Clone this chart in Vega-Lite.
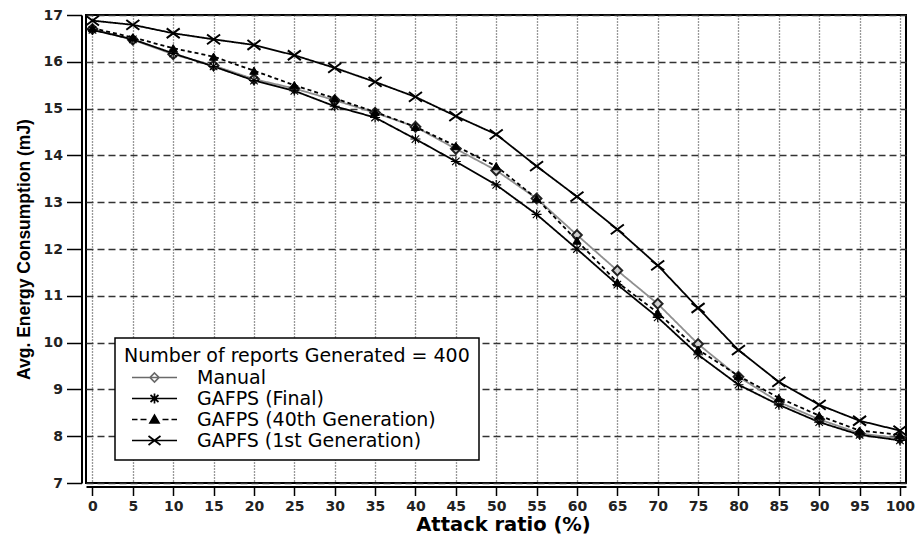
{
  "$schema": "https://vega.github.io/schema/vega-lite/v6.json",
  "width": 820,
  "height": 468,
  "autosize": {"type": "none"},
  "padding": {"left": 86, "top": 15, "right": 11, "bottom": 54},
  "background": "white",
  "data": {"values": [
    {"ratio": 0, "series": "Manual", "energy": 16.70},
    {"ratio": 5, "series": "Manual", "energy": 16.47},
    {"ratio": 10, "series": "Manual", "energy": 16.16},
    {"ratio": 15, "series": "Manual", "energy": 15.92},
    {"ratio": 20, "series": "Manual", "energy": 15.63},
    {"ratio": 25, "series": "Manual", "energy": 15.43},
    {"ratio": 30, "series": "Manual", "energy": 15.18},
    {"ratio": 35, "series": "Manual", "energy": 14.91},
    {"ratio": 40, "series": "Manual", "energy": 14.61},
    {"ratio": 45, "series": "Manual", "energy": 14.14},
    {"ratio": 50, "series": "Manual", "energy": 13.68},
    {"ratio": 55, "series": "Manual", "energy": 13.08},
    {"ratio": 60, "series": "Manual", "energy": 12.30},
    {"ratio": 65, "series": "Manual", "energy": 11.54},
    {"ratio": 70, "series": "Manual", "energy": 10.83},
    {"ratio": 75, "series": "Manual", "energy": 9.97},
    {"ratio": 80, "series": "Manual", "energy": 9.27},
    {"ratio": 85, "series": "Manual", "energy": 8.73},
    {"ratio": 90, "series": "Manual", "energy": 8.36},
    {"ratio": 95, "series": "Manual", "energy": 8.06},
    {"ratio": 100, "series": "Manual", "energy": 7.95},
    {"ratio": 0, "series": "GAFPS (Final)", "energy": 16.68},
    {"ratio": 5, "series": "GAFPS (Final)", "energy": 16.48},
    {"ratio": 10, "series": "GAFPS (Final)", "energy": 16.18},
    {"ratio": 15, "series": "GAFPS (Final)", "energy": 15.90},
    {"ratio": 20, "series": "GAFPS (Final)", "energy": 15.60},
    {"ratio": 25, "series": "GAFPS (Final)", "energy": 15.38},
    {"ratio": 30, "series": "GAFPS (Final)", "energy": 15.05},
    {"ratio": 35, "series": "GAFPS (Final)", "energy": 14.81},
    {"ratio": 40, "series": "GAFPS (Final)", "energy": 14.35},
    {"ratio": 45, "series": "GAFPS (Final)", "energy": 13.87},
    {"ratio": 50, "series": "GAFPS (Final)", "energy": 13.37},
    {"ratio": 55, "series": "GAFPS (Final)", "energy": 12.74},
    {"ratio": 60, "series": "GAFPS (Final)", "energy": 12.00},
    {"ratio": 65, "series": "GAFPS (Final)", "energy": 11.24},
    {"ratio": 70, "series": "GAFPS (Final)", "energy": 10.54},
    {"ratio": 75, "series": "GAFPS (Final)", "energy": 9.74},
    {"ratio": 80, "series": "GAFPS (Final)", "energy": 9.10},
    {"ratio": 85, "series": "GAFPS (Final)", "energy": 8.67},
    {"ratio": 90, "series": "GAFPS (Final)", "energy": 8.30},
    {"ratio": 95, "series": "GAFPS (Final)", "energy": 8.03},
    {"ratio": 100, "series": "GAFPS (Final)", "energy": 7.91},
    {"ratio": 0, "series": "GAFPS (40th Generation)", "energy": 16.72},
    {"ratio": 5, "series": "GAFPS (40th Generation)", "energy": 16.52},
    {"ratio": 10, "series": "GAFPS (40th Generation)", "energy": 16.29},
    {"ratio": 15, "series": "GAFPS (40th Generation)", "energy": 16.11},
    {"ratio": 20, "series": "GAFPS (40th Generation)", "energy": 15.81},
    {"ratio": 25, "series": "GAFPS (40th Generation)", "energy": 15.50},
    {"ratio": 30, "series": "GAFPS (40th Generation)", "energy": 15.22},
    {"ratio": 35, "series": "GAFPS (40th Generation)", "energy": 14.93},
    {"ratio": 40, "series": "GAFPS (40th Generation)", "energy": 14.61},
    {"ratio": 45, "series": "GAFPS (40th Generation)", "energy": 14.20},
    {"ratio": 50, "series": "GAFPS (40th Generation)", "energy": 13.77},
    {"ratio": 55, "series": "GAFPS (40th Generation)", "energy": 13.08},
    {"ratio": 60, "series": "GAFPS (40th Generation)", "energy": 12.18},
    {"ratio": 65, "series": "GAFPS (40th Generation)", "energy": 11.29},
    {"ratio": 70, "series": "GAFPS (40th Generation)", "energy": 10.64},
    {"ratio": 75, "series": "GAFPS (40th Generation)", "energy": 9.85},
    {"ratio": 80, "series": "GAFPS (40th Generation)", "energy": 9.29},
    {"ratio": 85, "series": "GAFPS (40th Generation)", "energy": 8.82},
    {"ratio": 90, "series": "GAFPS (40th Generation)", "energy": 8.44},
    {"ratio": 95, "series": "GAFPS (40th Generation)", "energy": 8.12},
    {"ratio": 100, "series": "GAFPS (40th Generation)", "energy": 8.03},
    {"ratio": 0, "series": "GAPFS (1st Generation)", "energy": 16.88},
    {"ratio": 5, "series": "GAPFS (1st Generation)", "energy": 16.79},
    {"ratio": 10, "series": "GAPFS (1st Generation)", "energy": 16.61},
    {"ratio": 15, "series": "GAPFS (1st Generation)", "energy": 16.48},
    {"ratio": 20, "series": "GAPFS (1st Generation)", "energy": 16.36},
    {"ratio": 25, "series": "GAPFS (1st Generation)", "energy": 16.14},
    {"ratio": 30, "series": "GAPFS (1st Generation)", "energy": 15.87},
    {"ratio": 35, "series": "GAPFS (1st Generation)", "energy": 15.57},
    {"ratio": 40, "series": "GAPFS (1st Generation)", "energy": 15.25},
    {"ratio": 45, "series": "GAPFS (1st Generation)", "energy": 14.84},
    {"ratio": 50, "series": "GAPFS (1st Generation)", "energy": 14.45},
    {"ratio": 55, "series": "GAPFS (1st Generation)", "energy": 13.77},
    {"ratio": 60, "series": "GAPFS (1st Generation)", "energy": 13.12},
    {"ratio": 65, "series": "GAPFS (1st Generation)", "energy": 12.42},
    {"ratio": 70, "series": "GAPFS (1st Generation)", "energy": 11.65},
    {"ratio": 75, "series": "GAPFS (1st Generation)", "energy": 10.74},
    {"ratio": 80, "series": "GAPFS (1st Generation)", "energy": 9.84},
    {"ratio": 85, "series": "GAPFS (1st Generation)", "energy": 9.16},
    {"ratio": 90, "series": "GAPFS (1st Generation)", "energy": 8.67},
    {"ratio": 95, "series": "GAPFS (1st Generation)", "energy": 8.33},
    {"ratio": 100, "series": "GAPFS (1st Generation)", "energy": 8.12}
  ]},
  "encoding": {
    "x": {
      "field": "ratio", "type": "quantitative",
      "scale": {"domain": [-0.8, 100.75], "nice": false, "zero": false},
      "axis": {
        "title": "Attack ratio (%)",
        "values": [0,5,10,15,20,25,30,35,40,45,50,55,60,65,70,75,80,85,90,95,100],
        "grid": true, "gridDash": [1, 2], "gridColor": "#333", "gridWidth": 1.3,
        "domainColor": "#000", "domainWidth": 2, "offset": 3.5,
        "tickSize": 9, "tickColor": "#000", "tickWidth": 1.5,
        "labelPadding": 4, "labelFont": "DejaVu Sans", "labelFontWeight": "bold",
        "labelFontSize": 14, "labelColor": "#222", "labelFlush": false, "labelOverlap": false,
        "titleFont": "DejaVu Sans", "titleFontWeight": "bold", "titleFontSize": 19.5,
        "titlePadding": 2, "titleColor": "#000", "titleX": 417
      }
    },
    "y": {
      "field": "energy", "type": "quantitative",
      "scale": {"domain": [7, 17], "nice": false, "zero": false},
      "axis": {
        "title": "Avg. Energy Consumption (mJ)",
        "values": [7,8,9,10,11,12,13,14,15,16,17],
        "grid": true, "gridDash": [7, 4], "gridColor": "#333", "gridWidth": 1.3,
        "domainColor": "#000", "domainWidth": 2, "offset": 4.5,
        "tickSize": 15, "tickColor": "#000", "tickWidth": 1.5,
        "labelPadding": 4, "labelFont": "DejaVu Sans", "labelFontWeight": "bold",
        "labelFontSize": 14, "labelColor": "#222", "labelFlush": false, "labelOverlap": false,
        "titleFont": "Liberation Sans", "titleFontWeight": "bold", "titleFontSize": 17.5,
        "titlePadding": 10, "titleColor": "#000"
      }
    }
  },
  "layer": [
    {
      "mark": {"type": "line", "strokeWidth": 1.8},
      "encoding": {
        "color": {
          "field": "series", "type": "nominal",
          "scale": {"range": ["#000000", "#000000", "#000000", "#8f8f8f"]},
          "legend": null
        },
        "strokeDash": {
          "field": "series", "type": "nominal",
          "scale": {"range": [[4, 3], [1, 0], [1, 0], [1, 0]]},
          "legend": null
        }
      }
    },
    {
      "transform": [{"filter": "datum.series == 'Manual'"}],
      "mark": {"type": "point", "shape": "diamond", "size": 95, "filled": false, "fill": "#cfcfcf", "stroke": "#222", "strokeWidth": 2, "opacity": 1}
    },
    {
      "transform": [{"filter": "datum.series == 'GAFPS (Final)'"}],
      "mark": {"type": "point", "shape": "M-1,0L1,0M0,-1L0,1M-0.75,-0.75L0.75,0.75M-0.75,0.75L0.75,-0.75", "size": 100, "filled": false, "stroke": "#000", "strokeWidth": 1.1, "opacity": 1}
    },
    {
      "transform": [{"filter": "datum.series == 'GAFPS (40th Generation)'"}],
      "mark": {"type": "point", "shape": "triangle-up", "size": 70, "filled": true, "fill": "#000", "stroke": "#000", "strokeWidth": 1, "opacity": 1}
    },
    {
      "transform": [{"filter": "datum.series == 'GAPFS (1st Generation)'"}],
      "mark": {"type": "point", "shape": "M-1,-0.75L1,0.75M-1,0.75L1,-0.75", "size": 170, "filled": false, "stroke": "#000", "strokeWidth": 2, "opacity": 1}
    },
    {
      "mark": {"type": "point", "opacity": 0, "filled": false, "size": 100},
      "encoding": {
        "shape": {
          "field": "series", "type": "nominal", "title": "Number of reports Generated = 400",
          "scale": {"domain": ["Manual", "GAFPS (Final)", "GAFPS (40th Generation)", "GAPFS (1st Generation)"],
                    "range": [
                      "M-4.5,0L4.5,0M0,-0.9L0.9,0L0,0.9L-0.9,0Z",
                      "M-4.5,0L4.5,0M0,-1L0,1M-0.8,-0.7L0.8,0.7M-0.8,0.7L0.8,-0.7",
                      "M-4.5,0L-3.4,0M-2.8,0L-1.6,0M1.6,0L2.8,0M3.4,0L4.5,0M0,-0.85L0.9,0.7L-0.9,0.7Z",
                      "M-4.5,0L4.5,0M-1.2,-0.9L1.2,0.9M-1.2,0.9L1.2,-0.9"
                    ]},
          "legend": {"orient": "none", "legendX": 29, "legendY": 323}
        },
        "stroke": {
          "field": "series", "type": "nominal", "title": "Number of reports Generated = 400",
          "scale": {"domain": ["Manual", "GAFPS (Final)", "GAFPS (40th Generation)", "GAPFS (1st Generation)"],
                    "range": ["#6a6a6a", "#000000", "#000000", "#000000"]},
          "legend": {"orient": "none", "legendX": 29, "legendY": 323}
        },
        "fill": {
          "field": "series", "type": "nominal", "title": "Number of reports Generated = 400",
          "scale": {"domain": ["Manual", "GAFPS (Final)", "GAFPS (40th Generation)", "GAPFS (1st Generation)"],
                    "range": ["#ffffff", "#000000", "#000000", "#000000"]},
          "legend": {"orient": "none", "legendX": 29, "legendY": 323}
        }
      }
    }
  ],
  "config": {
    "view": {"stroke": "#000", "strokeWidth": 2},
    "legend": {
      "padding": 9,
      "strokeColor": "#000",
      "strokeWidth": 1.5,
      "fillColor": "#ffffff",
      "symbolSize": 100,
      "symbolStrokeWidth": 1.7,
      "symbolOpacity": 1,
      "symbolOffset": 21,
      "labelOffset": 33,
      "labelFont": "DejaVu Sans",
      "labelFontSize": 19,
      "labelColor": "#000",
      "labelLimit": 0,
      "titleFont": "DejaVu Sans",
      "titleFontSize": 19,
      "titleFontWeight": "normal",
      "titleColor": "#000",
      "titleLimit": 0,
      "titlePadding": 2,
      "rowPadding": 1
    }
  }
}
